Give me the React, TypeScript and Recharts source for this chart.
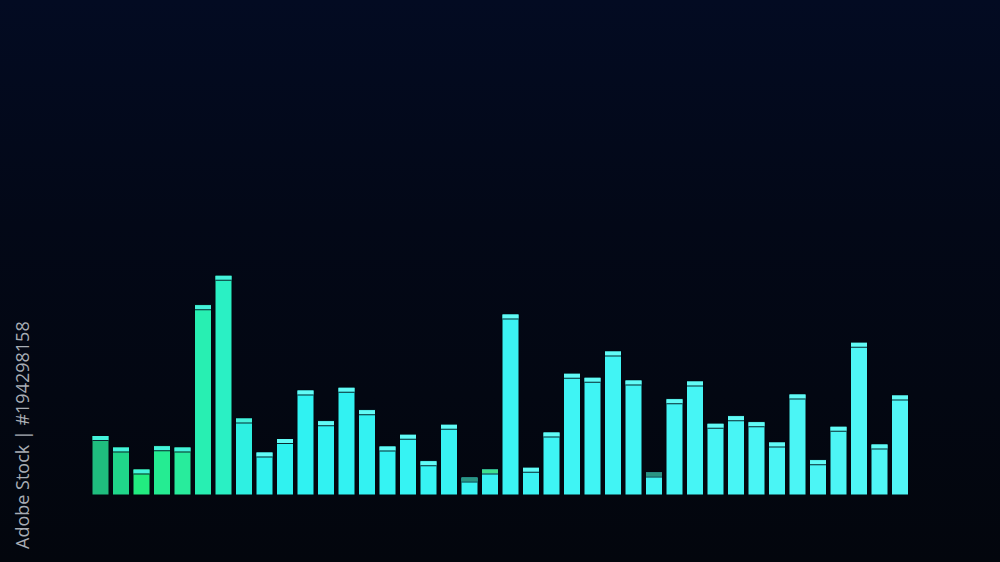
import { BarChart, Bar, XAxis, YAxis, Cell } from "recharts"

// bar heights, left to right (0-100 scale)
const bands = [
  "b1", "b2", "b3", "b4", "b5", "b6", "b7", "b8", "b9", "b10",
  "b11", "b12", "b13", "b14", "b15", "b16", "b17", "b18", "b19", "b20",
  "b21", "b22", "b23", "b24", "b25", "b26", "b27", "b28", "b29", "b30",
  "b31", "b32", "b33", "b34", "b35", "b36", "b37", "b38", "b39", "b40",
]
const levels = [
  23.8, 19.2, 10.4, 19.7, 19.2, 76.1, 87.9, 30.8, 17.2, 22.6,
  42.0, 29.7, 43.1, 34.1, 19.6, 24.3, 13.7, 28.3, 7.2, 10.4,
  72.4, 11.1, 25.2, 48.7, 47.1, 57.6, 46.0, 9.2, 38.5, 45.6,
  28.7, 31.7, 29.3, 21.2, 40.4, 14.1, 27.5, 61.1, 20.4, 40.0,
]
// bars whose top cap is a falling (darker) peak
const fallingPeaks = ["b19", "b20", "b28"]

const data = bands.map((band, i) => ({ band, level: levels[i] }))

// colour ramp: green on the left, cyan, then paler cyan on the right
const bodyColors = [
  "#1fbd7e", "#20d68a", "#22ec80", "#25ec92", "#28ec9c",
  "#28efb2", "#2af0c4", "#2ef0e2", "#30f1ee", "#30f2f0",
]
function bodyColor(i: number) {
  if (i < bodyColors.length) return bodyColors[i]
  const t = (i - bodyColors.length) / (bands.length - bodyColors.length)
  const g = Math.round(0xf2 + t * 4)
  const r = Math.round(0x30 + t * 0x22)
  return `rgb(${r},${g},${g})`
}
function capColor(band: string, i: number) {
  if (band === "b20") return "#3fe08e"
  if (fallingPeaks.includes(band)) return "#2b9583"
  return i < 8 ? "#45f3dc" : "#62fbf6"
}

const Meter = (props: any) => {
  const { x, y, width, height, fill, band, index } = props
  if (!height) return null
  return (
    <g>
      <rect x={x} y={y} width={width} height={height} fill={fill} stroke="#02070f" strokeWidth={1} />
      <rect x={x + 0.5} y={y + 0.5} width={width - 1} height={4} fill={capColor(band, index)} />
      <rect x={x + 0.5} y={y + 4.5} width={width - 1} height={1} fill="#0a2a30" />
    </g>
  )
}

export default function App() {
  return (
    <div
      style={{
        position: "fixed",
        top: 0,
        left: 0,
        width: 1000,
        height: 562,
        background: "linear-gradient(180deg, #030b22 0%, #030817 40%, #03060d 100%)",
        overflow: "hidden",
      }}
    >
      <BarChart
        width={1000}
        height={562}
        data={data}
        margin={{ top: 245, right: 90, bottom: 67, left: 90 }}
        barSize={17}
      >
        <XAxis dataKey="band" hide />
        <YAxis domain={[0, 100]} hide />
        <Bar dataKey="level" shape={<Meter />} isAnimationActive={false}>
          {data.map((d, i) => (
            <Cell key={d.band} fill={bodyColor(i)} />
          ))}
        </Bar>
      </BarChart>

      <div
        style={{
          position: "absolute",
          left: 13,
          top: 549,
          transform: "rotate(-90deg)",
          transformOrigin: "0 0",
          whiteSpace: "nowrap",
          fontFamily: "'Open Sans', sans-serif",
          fontSize: 18,
          color: "#a8adb5",
          lineHeight: 1,
        }}
      >
        Adobe Stock | #194298158
      </div>
    </div>
  )
}
